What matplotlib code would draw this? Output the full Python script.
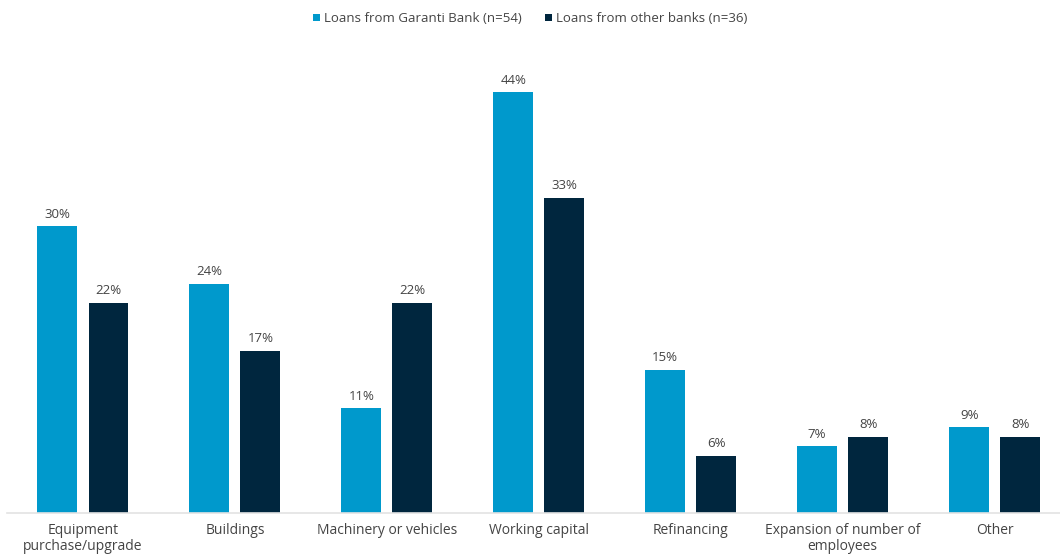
import numpy as np
import matplotlib
matplotlib.use('Agg')
import matplotlib.pyplot as plt

categories = ['Equipment\npurchase/upgrade', 'Buildings', 'Machinery or vehicles',
              'Working capital', 'Refinancing', 'Expansion of number of\nemployees', 'Other']
garanti = [30, 24, 11, 44, 15, 7, 9]
other_banks = [22, 17, 22, 33, 6, 8, 8]
series_names = ['Loans from Garanti Bank (n=54)', 'Loans from other banks (n=36)']

BLUE = '#0099cc'
NAVY = '#00263e'
TEXT = '#444444'

plt.rcParams['font.family'] = ['Open Sans', 'DejaVu Sans']

fig = plt.figure(figsize=(10.6, 5.56), dpi=100)
ax = fig.add_axes([0.0066, 0.0773, 0.9934, 0.851])

x = np.arange(len(categories))
w = 0.263
off = 0.168
b1 = ax.bar(x - off, garanti, w, color=BLUE, label=series_names[0])
b2 = ax.bar(x + off, other_banks, w, color=NAVY, label=series_names[1])

for bars, vals in ((b1, garanti), (b2, other_banks)):
    for r, v in zip(bars, vals):
        ax.text(r.get_x() + r.get_width() / 2, v + 0.55, f'{v}%',
                ha='center', va='bottom', fontsize=9.5, color=TEXT)

ax.set_xlim(-0.5, 6.43)
ax.set_ylim(0, 49.5)
ax.set_xticks(x)
ax.set_xticklabels(categories, fontsize=10, color=TEXT, linespacing=1.15)
ax.tick_params(axis='x', length=0, pad=7)
ax.set_yticks([])
for s in ('top', 'right', 'left'):
    ax.spines[s].set_visible(False)
ax.spines['bottom'].set_color('#e3e3e3')
ax.spines['bottom'].set_linewidth(1.2)

fig.legend(handles=[b1, b2], labels=series_names, loc='center', bbox_to_anchor=(0.5, 0.966),
           ncol=2, frameon=False, fontsize=9.5, labelcolor=TEXT,
           handlelength=0.5, handleheight=0.5, handletextpad=0.3, columnspacing=1.8)

fig.savefig('out.png', dpi=100)
